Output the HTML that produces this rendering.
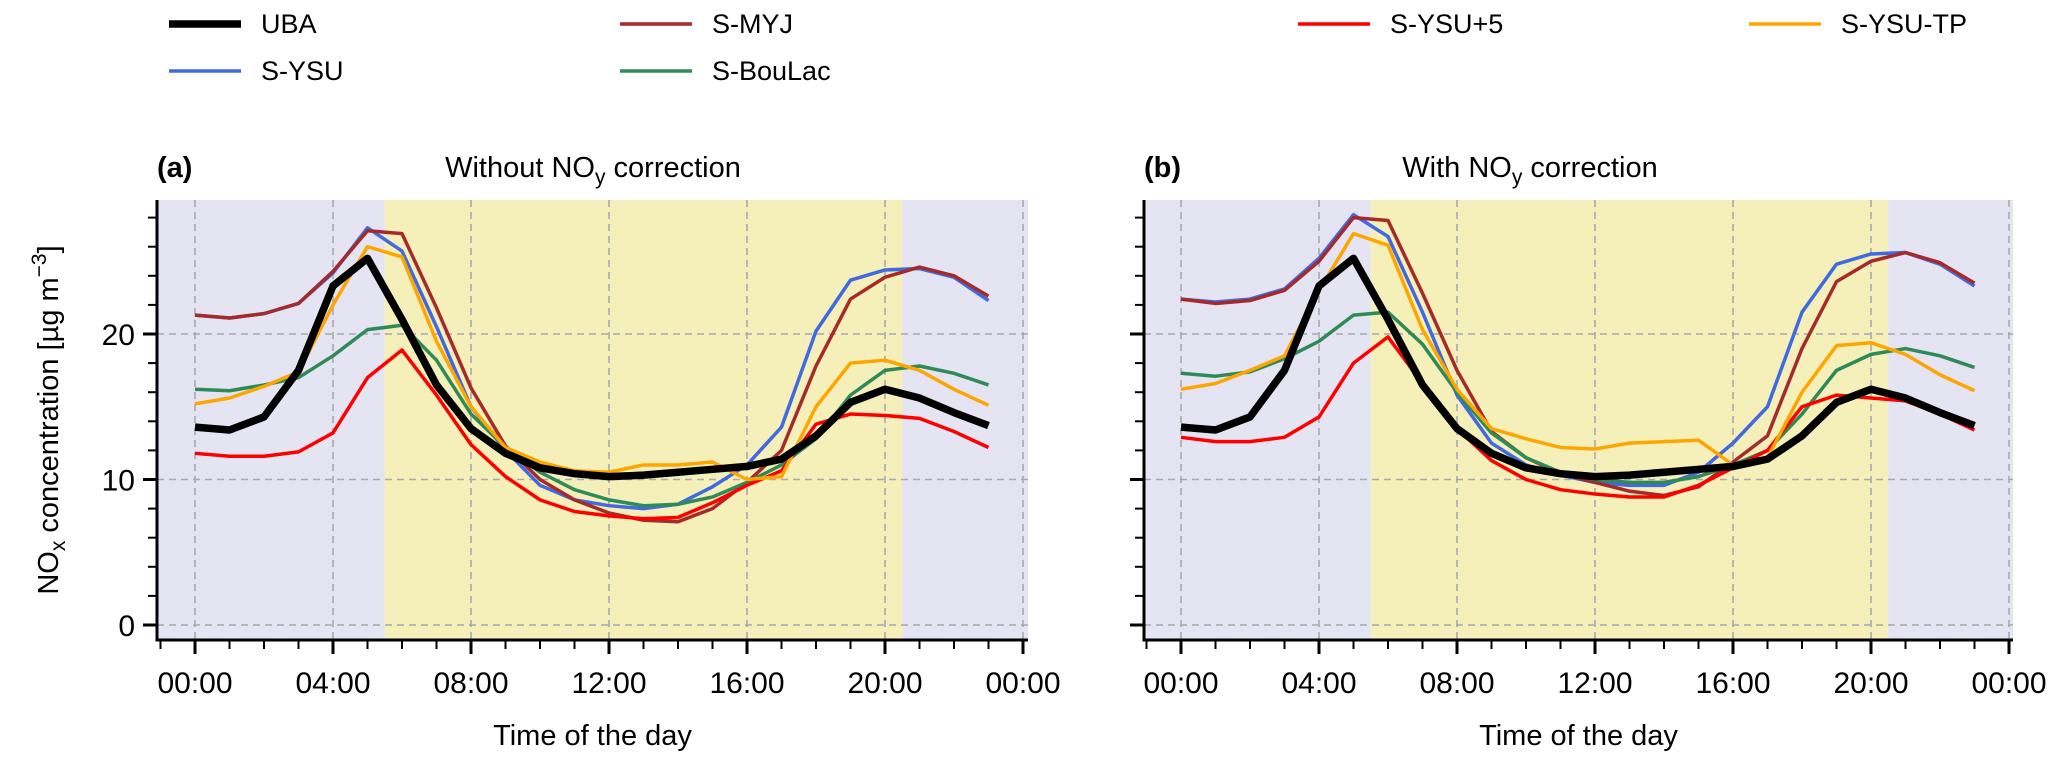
<!DOCTYPE html>
<html><head><meta charset="utf-8"><style>
body{margin:0;background:#fff;}
svg{display:block;font-family:"Liberation Sans",Arial,sans-serif;}
</style></head><body>
<svg id="chart" width="2067" height="761" viewBox="0 0 2067 761" xmlns="http://www.w3.org/2000/svg">
<g id="legend"></g>
<g id="panels"></g>
</svg>
<script>
const hours = [0,1,2,3,4,5,6,7,8,9,10,11,12,13,14,15,16,17,18,19,20,21,22,23];
const yTicks = [0,10,20];
const xTickLabels = ["00:00","04:00","08:00","12:00","16:00","20:00","00:00"];
const seriesNames = ["UBA","S-YSU","S-MYJ","S-BouLac","S-YSU+5","S-YSU-TP"];
const ubaA = [13.6,13.4,14.3,17.5,23.3,25.2,21,16.5,13.5,11.8,10.8,10.4,10.2,10.3,10.5,10.7,10.9,11.4,13,15.3,16.2,15.6,14.6,13.7];
const ysuA = [21.3,21.1,21.4,22.1,24.2,27.3,25.7,20.5,15,12,9.6,8.6,8.2,8.0,8.3,9.5,11,13.6,20.2,23.7,24.4,24.5,23.9,22.3];
const myjA = [21.3,21.1,21.4,22.1,24.3,27.1,26.9,21.8,16.3,12.3,10,8.6,7.7,7.2,7.1,8,9.8,12,17.8,22.4,23.9,24.6,24,22.6];
const ysu5A = [11.8,11.6,11.6,11.9,13.2,17,18.9,15.8,12.4,10.2,8.6,7.8,7.5,7.3,7.4,8.4,9.6,10.6,13.8,14.5,14.4,14.2,13.3,12.2];
const ysutpA = [15.2,15.6,16.4,17.4,22,26,25.3,19.5,15,12.2,11.2,10.6,10.5,11,11,11.2,10,10.2,15,18,18.2,17.5,16.2,15.1];
const boulacA = [16.2,16.1,16.5,17,18.5,20.3,20.6,18.2,14.5,12.2,10.5,9.3,8.6,8.2,8.3,8.8,9.8,11,12.8,15.8,17.5,17.8,17.3,16.5];
const ubaB = [13.6,13.4,14.3,17.5,23.3,25.2,21,16.5,13.5,11.8,10.8,10.4,10.2,10.3,10.5,10.7,10.9,11.4,13,15.3,16.2,15.6,14.6,13.7];
const ysuB = [22.4,22.2,22.4,23.1,25.2,28.2,26.7,21.5,15.8,12.5,11,10.3,9.8,9.6,9.6,10.5,12.5,15,21.5,24.8,25.5,25.6,24.8,23.3];
const myjB = [22.4,22.1,22.3,23,25,28,27.8,22.8,17.5,13.3,11.5,10.4,9.8,9.2,8.9,9.5,11.2,13,19,23.6,25,25.6,24.9,23.5];
const ysu5B = [12.9,12.6,12.6,12.9,14.3,18,19.8,16.6,13.5,11.3,10,9.3,9,8.8,8.8,9.6,10.8,12,15,15.8,15.6,15.4,14.5,13.4];
const ysutpB = [16.2,16.6,17.5,18.5,23,26.9,26.1,20.3,16.2,13.5,12.8,12.2,12.1,12.5,12.6,12.7,11,11.5,16,19.2,19.4,18.6,17.2,16.1];
const boulacB = [17.3,17.1,17.4,18.3,19.5,21.3,21.5,19.3,16,13.2,11.5,10.5,10,9.8,9.8,10.2,11,12,14.5,17.5,18.6,19,18.5,17.7];
const nightEnd = 5.5, nightStart = 20.5;

const NS="http://www.w3.org/2000/svg";
function mk(tag, attrs, parent){const e=document.createElementNS(NS,tag);for(const k in attrs)e.setAttribute(k,attrs[k]);parent.appendChild(e);return e;}
const colors={"UBA":"#000000","S-YSU":"#4169e1","S-MYJ":"#a52a2a","S-BouLac":"#2e8b57","S-YSU+5":"#ff0000","S-YSU-TP":"#ffa500"};
const widths={"UBA":7.5,"S-YSU":3.5,"S-MYJ":3.5,"S-BouLac":3.5,"S-YSU+5":3.5,"S-YSU-TP":3.5};

// legend
const leg=document.getElementById('legend');
const legPos=[["UBA",169,24],["S-MYJ",620,24],["S-YSU+5",1298,24],["S-YSU-TP",1749,24],["S-YSU",169,71],["S-BouLac",620,71]];
legPos.forEach(([n,x,y])=>{
  const g=mk('g',{},leg);
  
  
  mk('line',{x1:x,x2:x+72,y1:y,y2:y,stroke:colors[n],'stroke-width':n==="UBA"?7.5:3.5},g);
  const t=mk('text',{x:x+92,y:y+9,'font-size':27,fill:'#000'},g);t.textContent=n;
});

function panel(cfg){
  const root=document.getElementById('panels');
  const g=mk('g',{},root);
  
  
  const L=cfg.left,R=cfg.right,T=200,B=640,x0=cfg.x0,pxh=34.5,y0=625,pyu=14.55;
  const X=h=>x0+h*pxh, Y=v=>y0-v*pyu;
  const night1=mk('rect',{x:L,y:T,width:X(nightEnd)-L,height:B-T,fill:'#e5e4f3'},g);
  
  const day=mk('rect',{x:X(nightEnd),y:T,width:X(nightStart)-X(nightEnd),height:B-T,fill:'#f5f0b9'},g);
  
  const night2=mk('rect',{x:X(nightStart),y:T,width:R-X(nightStart),height:B-T,fill:'#e5e4f3'},g);
  
  for(let i=0;i<xTickLabels.length;i++){const h=i*4;mk('line',{x1:X(h),x2:X(h),y1:T,y2:B,stroke:'#a8a8b0','stroke-width':1.6,'stroke-dasharray':'7,5'},g);}
  yTicks.forEach(v=>mk('line',{x1:L,x2:R,y1:Y(v),y2:Y(v),stroke:'#a8a8b0','stroke-width':1.6,'stroke-dasharray':'7,5'},g));
  cfg.series.forEach(([n,arr])=>{
    const p=mk('polyline',{points:hours.map((h,i)=>X(h)+','+Y(arr[i])).join(' '),fill:'none',stroke:colors[n],'stroke-width':widths[n],'stroke-linejoin':'round'},g);
    
    
  });
  mk('line',{x1:L,x2:L,y1:T,y2:B+1.5,stroke:'#000','stroke-width':3},g);
  mk('line',{x1:L-1.5,x2:R,y1:B,y2:B,stroke:'#000','stroke-width':3},g);
  for(let v=0;v<=28;v+=2){const maj=v%10===0;mk('line',{x1:L-(maj?14:9),x2:L,y1:Y(v),y2:Y(v),stroke:'#000','stroke-width':maj?3:2},g);}
  if(cfg.ylabels){yTicks.forEach(v=>{const t=mk('text',{x:L-22,y:Y(v)+11,'font-size':30,'text-anchor':'end'},g);t.textContent=v;
    });}
  for(let h=-1;h<=24;h++){const maj=h%4===0;mk('line',{x1:X(h),x2:X(h),y1:B,y2:B+(maj?14:9),stroke:'#000','stroke-width':maj?3:2},g);}
  xTickLabels.forEach((s,i)=>{const t=mk('text',{x:X(i*4),y:693,'font-size':30,'text-anchor':'middle'},g);t.textContent=s;
    });
  const xl=mk('text',{x:(L+R)/2,y:745,'font-size':29,'text-anchor':'middle'},g);xl.textContent='Time of the day';
  
  const pl=mk('text',{x:L,y:177,'font-size':29,'font-weight':'bold'},g);pl.textContent=cfg.label;
  
  const tt=mk('text',{x:cfg.titleX,y:177,'font-size':29,'text-anchor':'middle'},g);
  
  tt.appendChild(document.createTextNode(cfg.title1+' NO'));
  const sub=mk('tspan',{'font-size':21,dy:7},tt);sub.textContent='y';
  const rest=mk('tspan',{dy:-7},tt);rest.textContent=' correction';
}
panel({name:'panel-a-without-correction',left:157,right:1028,x0:195,label:'(a)',title1:'Without',titleX:593,ylabels:true,
  series:[["S-YSU",ysuA],["S-MYJ",myjA],["S-BouLac",boulacA],["S-YSU+5",ysu5A],["S-YSU-TP",ysutpA],["UBA",ubaA]]});
panel({name:'panel-b-with-correction',left:1144,right:2013,x0:1181,label:'(b)',title1:'With',titleX:1530,ylabels:false,
  series:[["S-YSU",ysuB],["S-MYJ",myjB],["S-BouLac",boulacB],["S-YSU+5",ysu5B],["S-YSU-TP",ysutpB],["UBA",ubaB]]});
const svg=document.getElementById('chart');
const yl=mk('text',{x:0,y:0,'font-size':29,'text-anchor':'middle',transform:'translate(58,420) rotate(-90)'},svg);


yl.appendChild(document.createTextNode('NO'));
const s1=mk('tspan',{'font-size':21,dy:7},yl);s1.textContent='x';
const s2=mk('tspan',{dy:-7},yl);s2.textContent=' concentration [µg m';
const s3=mk('tspan',{'font-size':21,dy:-12},yl);s3.textContent='−3';
const s4=mk('tspan',{dy:12},yl);s4.textContent=']';
</script>
</body></html>
